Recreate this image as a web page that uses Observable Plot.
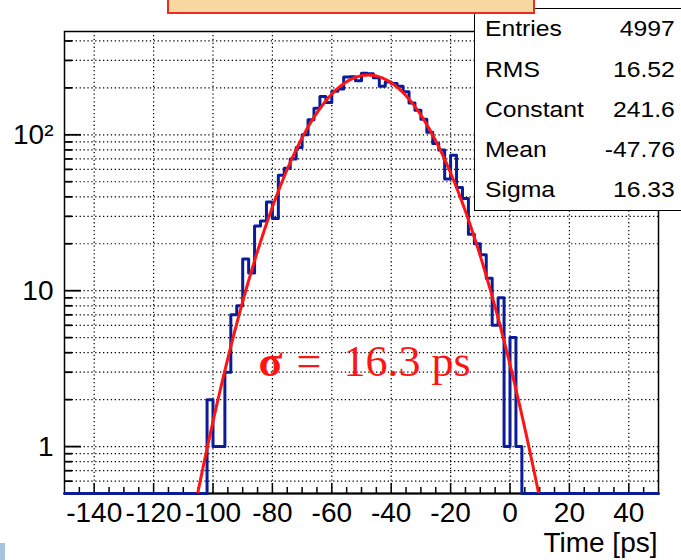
<!DOCTYPE html>
<html>
<head>
<meta charset="utf-8">
<script src="https://cdn.jsdelivr.net/npm/d3@7"></script>
<script src="https://cdn.jsdelivr.net/npm/@observablehq/plot@0.6"></script>
<style>
  html, body { margin: 0; padding: 0; background: #fff; overflow: hidden; }
  #wrap { position: relative; width: 681px; height: 560px; overflow: hidden;
          font-family: 'Liberation Sans', Arial, Helvetica, sans-serif; }
  #chart { position: absolute; left: 0; top: 0; }
  #titlebox { position: absolute; left: 167px; top: -30px; width: 364px; height: 40px;
              background: #f6d8a0; border: 2px solid #ee2a24; }
  #stats { position: absolute; left: 474px; top: 8px; width: 240px; height: 201px;
           background: #fff; border: 1.5px solid #000; }
  .lab, .val { position: absolute; height: 30px; line-height: 30px; font-size: 21.5px; color: #000; white-space: nowrap; }
  .lab { left: 485px; transform: scaleX(1.15); transform-origin: left center; }
  .val { right: 6px; transform: scaleX(1.15); transform-origin: right center; }
  #corner { position: absolute; left: 0; top: 543px; width: 5px; height: 17px; background: #a9c2de; }
</style>
</head>
<body>
<div id="wrap">
  <div id="chart"></div>
  <div id="stats"></div>
  <div id="titlebox"></div>
  <div id="corner"></div>
</div>
<script>
// ---- data ----
const xDomain = [-150, 50];
const yDomain = [0.5, 460];
const binWidth = 2;
// histogram counts, one per 2-ps bin from -150 to 50
const counts = [
  0,0,0,0,0,0,0,0,0,0,0,0,0,0,0,0,0,0,0,0,0,0,0,0,   // -150 .. -104
  2,1,1,3,7,8,16,13,26,28,37,29,55,61,70,83,100,125,148,176,161,190,197,
  235,236,222,248,246,232,205,218,213,205,189,160,144,126,104,88,80,52,74,
  46,39,23,20,17,12,6,9,1,5,1,                         // -102 .. 2
  0,0,0,0,0,0,0,0,0,0,0,0,0,0,0,0,0,0,0,0,0,0,0        // 4 .. 48
];
const xTickValues = [-140, -120, -100, -80, -60, -40, -20, 0, 20, 40];
const xMinorTicks = [-145,-135,-130,-125,-115,-110,-105,-95,-90,-85,-75,-70,-65,-55,-50,-45,-35,-30,-25,-15,-10,-5,5,10,15,25,30,35,45];
const yTickValues = [1, 10, 100];
const yTickLabels = ["1", "10", "10\u00B2"];
const yMinorTicks = [0.6,0.7,0.8,0.9,2,3,4,5,6,7,8,9,20,30,40,50,60,70,80,90,200,300,400];
// Gaussian fit parameters from the stats box
const statNames = ["Entries", "RMS", "Constant", "Mean", "Sigma"];
const statValues = ["4997", "16.52", "241.6", "-47.76", "16.33"];
const fitConstant = 241.6, fitMean = -47.76, fitSigma = 16.33;
const fitRange = [-110, 12];

// ---- stats box (annotation) ----
const wrap = document.getElementById("wrap");
const rowCenters = [29, 70, 110, 150, 190];
statNames.forEach((n, i) => {
  const l = document.createElement("div"); l.className = "lab"; l.textContent = n;
  l.style.top = (rowCenters[i] - 15) + "px"; wrap.appendChild(l);
  const v = document.createElement("div"); v.className = "val"; v.textContent = statValues[i];
  v.style.top = (rowCenters[i] - 15) + "px"; wrap.appendChild(v);
});

// ---- chart ----
const W = 681, H = 560, mL = 64, mR = 23, mT = 31, mB = 67;
const fw = W - mL - mR, fh = H - mT - mB;
const edges = counts.map((c, i) => xDomain[0] + i * binWidth);
const stepData = counts.map((c, i) => ({x: edges[i], y: Math.max(c, yDomain[0])}));
stepData.push({x: xDomain[1], y: stepData[stepData.length - 1].y});
const fitData = d3.range(fitRange[0], fitRange[1] + 1e-9, 0.5).map(u => ({
  x: u, y: fitConstant * Math.exp(-0.5 * ((u - fitMean) / fitSigma) ** 2)
}));
const yGrid = yMinorTicks.concat(yTickValues);
const dots = "1.3,2.6";

const chart = Plot.plot({
  width: W, height: H,
  marginLeft: mL, marginRight: mR, marginTop: mT, marginBottom: mB,
  style: {fontFamily: "'Liberation Sans', Arial, Helvetica, sans-serif", fontSize: "28px", color: "#000", background: "transparent"},
  x: {domain: xDomain, ticks: xTickValues, tickFormat: d => String(d), tickSize: 0, tickPadding: 9, label: null},
  y: {type: "log", domain: yDomain, ticks: yTickValues, tickFormat: d => yTickLabels[yTickValues.indexOf(d)] ?? "", tickSize: 0, tickPadding: 11, label: null},
  marks: [
    Plot.ruleY(yGrid, {y: d => d, stroke: "#000", strokeWidth: 1.2, strokeDasharray: dots}),
    Plot.ruleX(xTickValues, {x: d => d, stroke: "#000", strokeWidth: 1.2, strokeDasharray: dots}),
    Plot.tickX(xTickValues, {x: d => d, insetTop: fh - 10, stroke: "#000", strokeWidth: 1.5}),
    Plot.tickX(xMinorTicks, {x: d => d, insetTop: fh - 6, stroke: "#000", strokeWidth: 1.5}),
    Plot.tickY(yTickValues, {y: d => d, insetRight: fw - 17, stroke: "#000", strokeWidth: 1.8}),
    Plot.tickY(yMinorTicks, {y: d => d, insetRight: fw - 8, stroke: "#000", strokeWidth: 1.8}),
    Plot.frame({stroke: "#000", strokeWidth: 1.5}),
    Plot.ruleY([yDomain[0]], {stroke: "#000", strokeWidth: 2}),
    Plot.line(stepData, {x: "x", y: "y", curve: "step-after", stroke: "#0b1c99", strokeWidth: 3}),
    Plot.line(fitData, {x: "x", y: "y", stroke: "#ff1414", strokeWidth: 3, clip: true}),
    Plot.text(["\u03C3"], {text: d => d, frameAnchor: "top-left", dx: 194, dy: 313, textAnchor: "start",
      fontSize: 44, fontWeight: "bold", fontFamily: "'Liberation Serif', 'DejaVu Serif', serif", fill: "#ff1414"}),
    Plot.text(["="], {text: d => d, frameAnchor: "top-left", dx: 232, dy: 313, textAnchor: "start",
      fontSize: 44, fontFamily: "'Liberation Serif', 'DejaVu Serif', serif", fill: "#ff1414"}),
    Plot.text(["16.3 ps"], {text: d => d, frameAnchor: "top-left", dx: 279, dy: 313, textAnchor: "start",
      fontSize: 44, fontFamily: "'Liberation Serif', 'DejaVu Serif', serif", fill: "#ff1414"}),
    Plot.text(["Time [ps]"], {text: d => d, frameAnchor: "bottom-right", dx: -1, dy: 58, textAnchor: "end", fontSize: 28, fill: "#000"})
  ]
});
document.getElementById("chart").appendChild(chart);
</script>
</body>
</html>
